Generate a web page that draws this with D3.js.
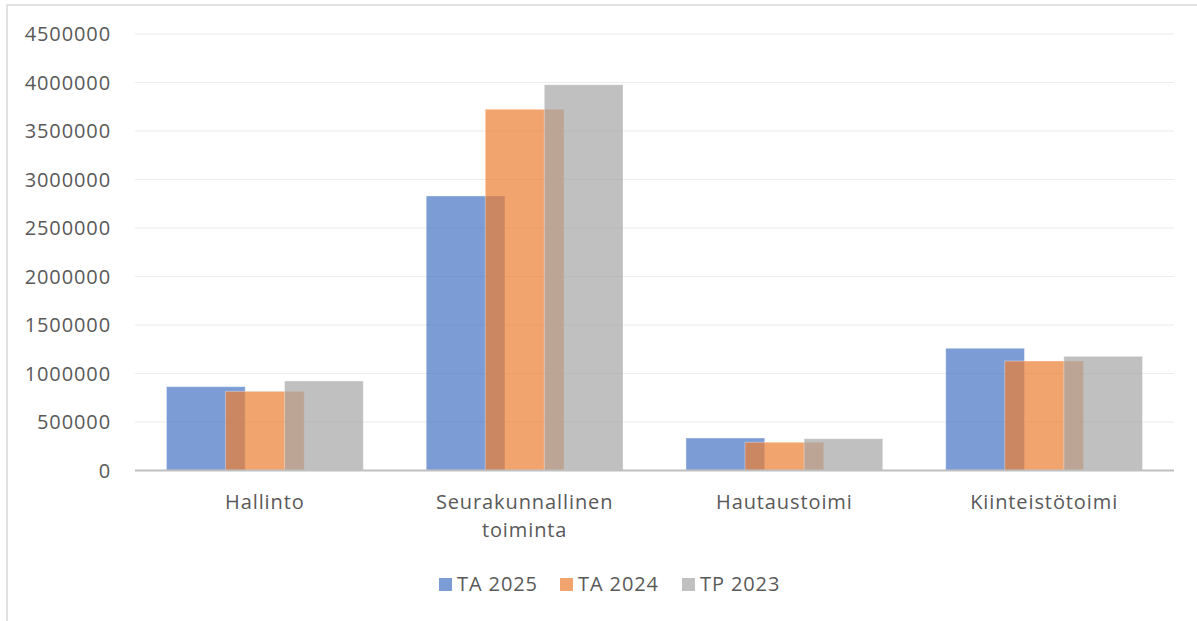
<!DOCTYPE html>
<html>
<head>
<meta charset="utf-8">
<script src="https://cdn.jsdelivr.net/npm/d3@7"></script>
<style>
  body { margin: 0; background: #fff; }
  text { font-family: "Open Sans", sans-serif; fill: #595959; }
</style>
</head>
<body>
<div id="chart"></div>
<script>
// data
var categories = [["Hallinto"], ["Seurakunnallinen", "toiminta"], ["Hautaustoimi"], ["Kiinteistötoimi"]]
var seriesNames = ["TA 2025", "TA 2024", "TP 2023"]
var ta2025 = [864000, 2830000, 335000, 1260000]
var ta2024 = [816000, 3724000, 291000, 1129000]
var tp2023 = [923000, 3977000, 328000, 1177000]
var yTicks = [0, 500000, 1000000, 1500000, 2000000, 2500000, 3000000, 3500000, 4000000, 4500000]
var colors = ["#4472C4", "#ED7D31", "#A5A5A5"]

var width = 1197, height = 621
// note: "top" is reserved on window, so use plot* names
var plotLeft = 135, plotRight = 1174, plotTop = 34, plotBottom = 470.5

var svg = d3.select("#chart").append("svg")
  .attr("width", width)
  .attr("height", height)

// outer frame (only top/left visible in the crop)
svg.append("path")
  .attr("d", "M7,621 V5 H1197")
  .attr("fill", "none")
  .attr("stroke", "#d9d9d9")
  .attr("stroke-width", 1.5)

var x = d3.scaleBand()
  .domain(d3.range(categories.length))
  .range([plotLeft, plotRight])
  .padding(0)

var y = d3.scaleLinear()
  .domain([0, 4500000])
  .range([plotBottom, plotTop])

// gridlines
svg.append("g").selectAll("line")
  .data(yTicks.slice(1))
  .enter().append("line")
  .attr("x1", plotLeft).attr("x2", plotRight)
  .attr("y1", d => y(d)).attr("y2", d => y(d))
  .attr("stroke", "#ececec")
  .attr("stroke-width", 1.2)

// y labels
svg.append("g").selectAll("text")
  .data(yTicks)
  .enter().append("text")
  .attr("x", 111)
  .attr("y", d => y(d))
  .attr("dy", "0.35em")
  .attr("text-anchor", "end")
  .attr("font-size", 20)
  .attr("letter-spacing", 0.9)
  .text(d => d)

// bars: gap width 80%, overlap 25% like the Excel chart
var gap = 0.8, overlap = 0.25
var bw = x.bandwidth() / (3 * (1 - overlap) + overlap + gap)
var allSeries = [ta2025, ta2024, tp2023]

allSeries.forEach(function(vals, si) {
  svg.append("g").selectAll("rect")
    .data(vals)
    .enter().append("rect")
    .attr("x", (d, i) => x(i) + gap * bw / 2 + si * bw * (1 - overlap))
    .attr("width", bw)
    .attr("y", d => y(d))
    .attr("height", d => y(0) - y(d))
    .attr("fill", colors[si])
    .attr("fill-opacity", 0.7)
    .attr("stroke", "#ffffff")
    .attr("stroke-opacity", 0.35)
    .attr("stroke-width", 1)
})

// zero axis
svg.append("line")
  .attr("x1", plotLeft).attr("x2", plotRight)
  .attr("y1", y(0)).attr("y2", y(0))
  .attr("stroke", "#bfbfbf")
  .attr("stroke-width", 2)

// category labels
var lab = svg.append("g").selectAll("text")
  .data(categories)
  .enter().append("text")
  .attr("x", (d, i) => x(i) + x.bandwidth() / 2)
  .attr("y", 509)
  .attr("text-anchor", "middle")
  .attr("font-size", 20)
  .attr("letter-spacing", 0.9)

lab.selectAll("tspan")
  .data(d => d)
  .enter().append("tspan")
  .attr("x", function() { return d3.select(this.parentNode).attr("x") })
  .attr("dy", (d, i) => i ? 28 : 0)
  .text(d => d)

// legend
var legendX = [439, 560, 682]
var leg = svg.append("g").selectAll("g")
  .data(seriesNames)
  .enter().append("g")
  .attr("transform", (d, i) => "translate(" + legendX[i] + ",0)")

leg.append("rect")
  .attr("x", 0).attr("y", 578)
  .attr("width", 13).attr("height", 13)
  .attr("fill", (d, i) => colors[i])
  .attr("fill-opacity", 0.7)

leg.append("text")
  .attr("x", 18).attr("y", 591)
  .attr("font-size", 20)
  .attr("letter-spacing", 0.9)
  .text(d => d)
</script>
</body>
</html>
